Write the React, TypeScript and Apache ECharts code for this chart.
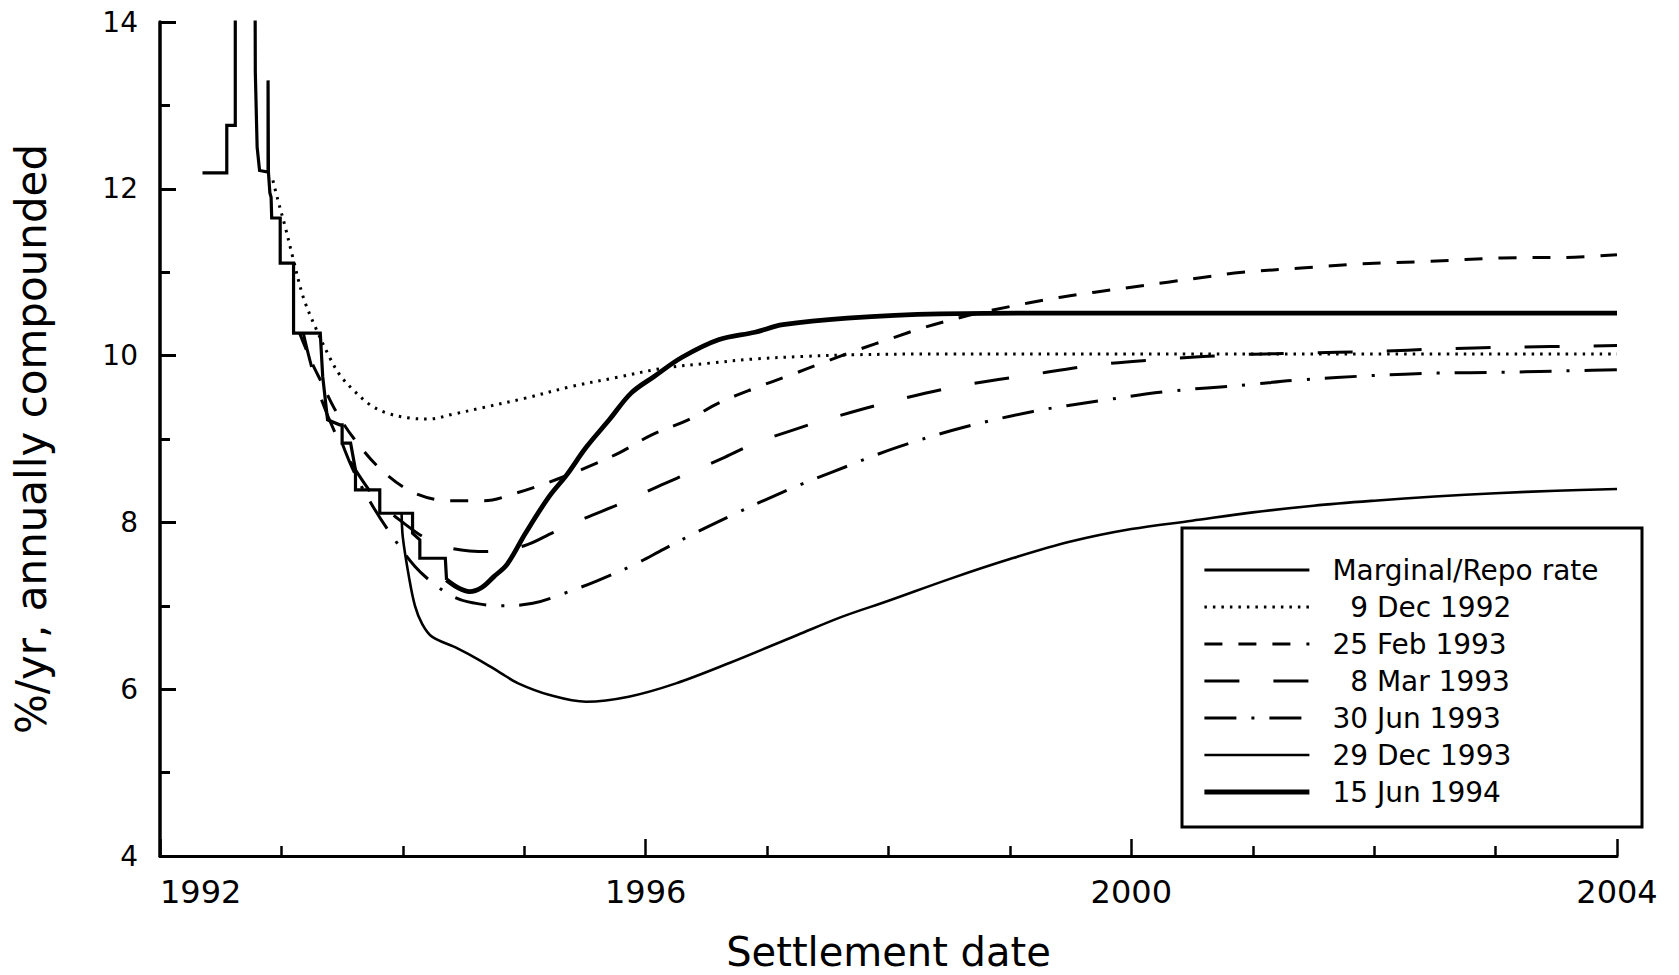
import { useEffect, useRef } from "react";
import * as echarts from "echarts";

// ---- data ----
const yearAxis = { min: 1992, max: 2004, step: 4 };
const rateAxis = { min: 4, max: 14, step: 2 };

const seriesNames = [
  "Marginal/Repo rate",
  "9 Dec 1992",
  "25 Feb 1993",
  "8 Mar 1993",
  "30 Jun 1993",
  "29 Dec 1993",
  "15 Jun 1994",
];

// step function; 16 marks the off-scale spike of autumn 1992
const marginalRepo: [number, number][] = [
  [1992.35, 12.19], [1992.55, 12.19], [1992.55, 12.76], [1992.62, 12.76],
  [1992.62, 16], [1992.78, 16], [1992.785, 13.4], [1992.8, 12.5],
  [1992.82, 12.22], [1992.89, 12.2], [1992.89, 13.3], [1992.893, 13.3],
  [1992.893, 12.2], [1992.905, 11.95], [1992.915, 11.9], [1992.92, 11.65],
  [1992.99, 11.65], [1992.99, 11.11], [1993.1, 11.11], [1993.1, 10.27],
  [1993.32, 10.27], [1993.34, 9.75], [1993.38, 9.23], [1993.48, 9.17],
  [1993.5, 9.17], [1993.5, 8.95], [1993.57, 8.95], [1993.61, 8.63],
  [1993.61, 8.39], [1993.81, 8.39], [1993.81, 8.11], [1994.08, 8.11],
  [1994.08, 7.87], [1994.14, 7.79], [1994.14, 7.57], [1994.35, 7.57],
  [1994.36, 7.31],
];

const dec1992: [number, number][] = [
  [1992.93, 12.1], [1992.97, 11.87], [1993.03, 11.55], [1993.09, 11.2],
  [1993.18, 10.7], [1993.28, 10.34], [1993.4, 9.97], [1993.48, 9.77],
  [1993.59, 9.59], [1993.73, 9.41], [1993.87, 9.31], [1994.06, 9.25],
  [1994.21, 9.24], [1994.42, 9.3], [1994.64, 9.37], [1995.01, 9.49],
  [1995.39, 9.63], [1995.77, 9.74], [1996.15, 9.85], [1996.53, 9.91],
  [1996.9, 9.96], [1997.3, 9.99], [1997.7, 10.01], [1998.5, 10.02],
  [2000, 10.02], [2004, 10.02],
];

const feb1993: [number, number][] = [
  [1993.15, 10.27], [1993.24, 9.95], [1993.33, 9.68], [1993.45, 9.33],
  [1993.6, 9.0], [1993.83, 8.62], [1994.1, 8.35], [1994.4, 8.26],
  [1994.67, 8.26], [1994.93, 8.35], [1995.2, 8.48], [1995.5, 8.65],
  [1995.79, 8.84], [1996.05, 9.05], [1996.35, 9.23], [1996.6, 9.43],
  [1996.9, 9.61], [1997.18, 9.76], [1997.47, 9.92], [1997.75, 10.07],
  [1998.03, 10.21], [1998.3, 10.34], [1998.6, 10.46], [1998.87, 10.55],
  [1999.15, 10.63], [1999.42, 10.7], [1999.7, 10.76], [2000.0, 10.82],
  [2000.3, 10.88], [2000.6, 10.94], [2000.85, 10.99], [2001.4, 11.05],
  [2001.9, 11.1], [2002.45, 11.13], [2003.05, 11.17], [2003.65, 11.18],
  [2004.0, 11.21],
];

const mar1993: [number, number][] = [
  [1993.18, 10.27], [1993.3, 9.6], [1993.45, 9.05], [1993.61, 8.63],
  [1993.8, 8.25], [1994.0, 8.0], [1994.2, 7.8], [1994.4, 7.69],
  [1994.7, 7.65], [1995.0, 7.72], [1995.24, 7.88], [1995.5, 8.05],
  [1995.8, 8.23], [1996.1, 8.43], [1996.37, 8.6], [1996.65, 8.78],
  [1996.9, 8.95], [1997.2, 9.1], [1997.5, 9.24], [1998.05, 9.46],
  [1998.6, 9.64], [1999.17, 9.77], [1999.72, 9.89], [2000.3, 9.96],
  [2000.88, 10.01], [2001.4, 10.03], [2002.0, 10.05], [2002.55, 10.08],
  [2003.1, 10.1], [2004.0, 10.12],
];

const jun1993: [number, number][] = [
  [1993.5, 8.95], [1993.6, 8.6], [1993.75, 8.2], [1993.92, 7.82],
  [1994.1, 7.47], [1994.25, 7.27], [1994.39, 7.13], [1994.53, 7.05],
  [1994.8, 7.0], [1995.07, 7.03], [1995.33, 7.15], [1995.6, 7.3],
  [1995.9, 7.49], [1996.15, 7.68], [1996.43, 7.89], [1996.7, 8.08],
  [1997.0, 8.28], [1997.27, 8.45], [1997.53, 8.6], [1998.07, 8.9],
  [1998.62, 9.14], [1999.19, 9.33], [1999.75, 9.46], [2000.3, 9.57],
  [2000.95, 9.65], [2001.4, 9.71], [2001.98, 9.76], [2002.52, 9.79],
  [2003.06, 9.8], [2003.66, 9.82], [2004.0, 9.83],
];

const dec1993: [number, number][] = [
  [1993.99, 8.11], [1994.0, 7.82], [1994.05, 7.35], [1994.1, 7.0],
  [1994.16, 6.78], [1994.24, 6.63], [1994.45, 6.49], [1994.63, 6.35],
  [1994.8, 6.2], [1994.95, 6.07], [1995.21, 5.93], [1995.51, 5.85],
  [1995.86, 5.91], [1996.25, 6.07], [1996.7, 6.32], [1997.25, 6.65],
  [1997.62, 6.87], [1998.0, 7.06], [1998.5, 7.32], [1999.0, 7.56],
  [1999.5, 7.77], [2000.0, 7.92], [2000.5, 8.02], [2001.0, 8.12],
  [2001.5, 8.2], [2002.0, 8.26], [2002.5, 8.31], [2003.0, 8.35],
  [2003.5, 8.38], [2004.0, 8.4],
];

const jun1994: [number, number][] = [
  [1994.36, 7.31], [1994.45, 7.22], [1994.55, 7.17], [1994.65, 7.22],
  [1994.75, 7.35], [1994.86, 7.5], [1995.01, 7.87], [1995.2, 8.3],
  [1995.35, 8.57], [1995.51, 8.9], [1995.7, 9.23], [1995.88, 9.55],
  [1996.07, 9.75], [1996.3, 9.98], [1996.6, 10.19], [1996.9, 10.28],
  [1997.13, 10.37], [1997.66, 10.45], [1998.42, 10.5], [1999.5, 10.51],
  [2004, 10.51],
];

const FONT = "'DejaVu Sans', 'Liberation Sans', sans-serif";

function curve(name: string, data: [number, number][], width: number, type: any, smooth: number | boolean, z: number) {
  return {
    name,
    type: "line",
    data,
    showSymbol: false,
    symbol: "none",
    smooth,
    clip: true,
    z,
    emphasis: { disabled: true },
    lineStyle: { color: "#000", width, type, cap: "butt", join: "miter" },
    itemStyle: { color: "#000" },
  };
}

export default function App() {
  const ref = useRef<HTMLDivElement>(null);

  useEffect(() => {
    if (!ref.current) return;
    const chart = echarts.init(ref.current, null, { renderer: "svg" });
    chart.setOption({
      animation: false,
      backgroundColor: "#fff",
      textStyle: { fontFamily: FONT, color: "#000" },
      grid: {
        left: 160,
        right: 62,
        top: 22,
        bottom: 119,
        containLabel: false,
        outerBoundsMode: "none",
      },
      xAxis: {
        type: "value",
        min: yearAxis.min,
        max: yearAxis.max,
        interval: yearAxis.step,
        name: "Settlement date",
        nameLocation: "middle",
        nameGap: 76,
        nameTextStyle: { fontSize: 40, fontFamily: FONT, color: "#000" },
        axisLine: { show: true, onZero: false, lineStyle: { color: "#000", width: 3 } },
        axisTick: { show: true, inside: true, length: 17, lineStyle: { color: "#000", width: 2.5 } },
        minorTick: { show: true, splitNumber: 4, length: 10, lineStyle: { color: "#000", width: 2.5 } },
        splitLine: { show: false },
        minorSplitLine: { show: false },
        axisLabel: {
          fontSize: 32,
          fontFamily: FONT,
          color: "#000",
          margin: 20,
          showMinLabel: true,
          showMaxLabel: true,
          alignMinLabel: "left",
          formatter: (v: number) => String(v),
        },
      },
      yAxis: {
        type: "value",
        min: rateAxis.min,
        max: rateAxis.max,
        interval: rateAxis.step,
        name: "%/yr, annually compounded",
        nameLocation: "middle",
        nameRotate: 90,
        nameGap: 108,
        nameTextStyle: { fontSize: 42, fontFamily: FONT, color: "#000" },
        axisLine: { show: true, onZero: false, lineStyle: { color: "#000", width: 3.5 } },
        axisTick: { show: true, inside: true, length: 16, lineStyle: { color: "#000", width: 3 } },
        minorTick: { show: true, splitNumber: 2, length: 10, lineStyle: { color: "#000", width: 3 } },
        splitLine: { show: false },
        minorSplitLine: { show: false },
        axisLabel: {
          fontSize: 28,
          fontFamily: FONT,
          color: "#000",
          margin: 22,
          showMinLabel: true,
          showMaxLabel: true,
        },
      },
      legend: {
        orient: "vertical",
        left: 1202,
        top: 555,
        padding: 0,
        itemWidth: 105,
        itemHeight: 2,
        itemGap: 7,
        selectedMode: false,
        itemStyle: { opacity: 0 },
        lineStyle: { width: "inherit", type: "inherit", color: "inherit" },
        data: seriesNames,
        formatter: (n: string) => (/^\d\s/.test(n) ? "\u2007" + n : n),
        textStyle: {
          fontSize: 28,
          lineHeight: 30,
          fontFamily: FONT,
          color: "#000",
          padding: [0, 0, 0, 18],
        },
      },
      graphic: [
        {
          type: "rect",
          z: 100,
          shape: { x: 1182, y: 528, width: 460, height: 299 },
          style: { fill: "none", stroke: "#000", lineWidth: 3 },
        },
      ],
      series: [
        curve(seriesNames[0], marginalRepo, 3.2, "solid", false, 5),
        curve(seriesNames[1], dec1992, 3, [2.5, 6], 0.35, 3),
        curve(seriesNames[2], feb1993, 3, [18, 16], 0.35, 3),
        curve(seriesNames[3], mar1993, 3, [35, 34], 0.35, 3),
        curve(seriesNames[4], jun1993, 3, [32, 15, 3, 15], 0.35, 3),
        curve(seriesNames[5], dec1993, 2.6, "solid", 0.35, 4),
        curve(seriesNames[6], jun1994, 4.8, "solid", 0.35, 6),
      ],
    });
    return () => chart.dispose();
  }, []);

  return (
    <div
      ref={ref}
      style={{ position: "absolute", left: 0, top: 0, width: 1679, height: 975, background: "#fff" }}
    />
  );
}
